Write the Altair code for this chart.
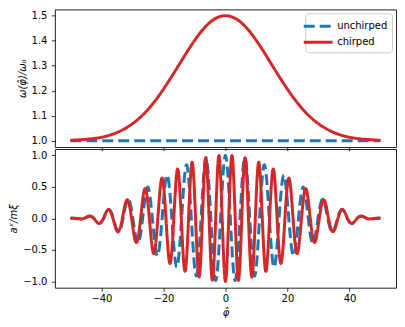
import altair as alt
import pandas as pd

# ---- top panel: instantaneous frequency ----
phi_top = [-50, -45, -40, -35, -30, -25, -20, -15, -10, -5, 0,
           5, 10, 15, 20, 25, 30, 35, 40, 45, 50]
omega_chirped = [1.002, 1.006, 1.014, 1.033, 1.068, 1.125, 1.206, 1.303, 1.400, 1.473, 1.500,
                 1.473, 1.400, 1.303, 1.206, 1.125, 1.068, 1.033, 1.014, 1.006, 1.002]
phi_flat = [-50.0, 50.0]
omega_unchirped = [1.0, 1.0]

# ---- bottom panel: field, extrema and zero crossings ----
phi_blue = [-50.00, -48.69, -47.12, -45.55, -43.98, -42.41, -40.84, -39.27, -37.70, -36.13,
            -34.56, -32.99, -31.42, -29.85, -28.27, -26.70, -25.13, -23.56, -21.99, -20.42,
            -18.85, -17.28, -15.71, -14.14, -12.57, -11.00, -9.42, -7.85, -6.28, -4.71,
            -3.14, -1.57, 0.00, 1.57, 3.14, 4.71, 6.28, 7.85, 9.42, 11.00,
            12.57, 14.14, 15.71, 17.28, 18.85, 20.42, 21.99, 23.56, 25.13, 26.70,
            28.27, 29.85, 31.42, 32.99, 34.56, 36.13, 37.70, 39.27, 40.84, 42.41,
            43.98, 45.55, 47.12, 48.69, 50.00]
a_blue = [0.0, 0.0, -0.008, 0.0, 0.035, 0.0, -0.080, 0.0, 0.142, 0.0,
          -0.217, 0.0, 0.304, 0.0, -0.398, 0.0, 0.496, 0.0, -0.594, 0.0,
          0.689, 0.0, -0.776, 0.0, 0.852, 0.0, -0.915, 0.0, 0.962, 0.0,
          -0.990, 0.0, 1.000, 0.0, -0.990, 0.0, 0.962, 0.0, -0.915, 0.0,
          0.852, 0.0, -0.776, 0.0, 0.689, 0.0, -0.594, 0.0, 0.496, 0.0,
          -0.398, 0.0, 0.304, 0.0, -0.217, 0.0, 0.142, 0.0, -0.080, 0.0,
          0.035, 0.0, -0.008, 0.0, 0.0]

phi_red = [-50.00, -48.71, -47.14, -45.58, -44.01, -42.46, -40.90, -39.35, -37.81, -36.28,
           -34.75, -33.24, -31.74, -30.26, -28.79, -27.35, -25.93, -24.53, -23.15, -21.80,
           -20.47, -19.18, -17.90, -16.65, -15.43, -14.23, -13.05, -11.89, -10.75, -9.63,
           -8.52, -7.42, -6.34, -5.27, -4.20, -3.15, -2.10, -1.05, 0.00,
           1.05, 2.10, 3.15, 4.20, 5.27, 6.34, 7.42, 8.52, 9.63, 10.75,
           11.89, 13.05, 14.23, 15.43, 16.65, 17.90, 19.18, 20.47, 21.80, 23.15,
           24.53, 25.93, 27.35, 28.79, 30.26, 31.74, 33.24, 34.75, 36.28, 37.81,
           39.35, 40.90, 42.46, 44.01, 45.58, 47.14, 48.71, 50.00]
a_red = [0.0, 0.0, -0.008, 0.0, 0.035, 0.0, -0.079, 0.0, 0.140, 0.0,
         -0.212, 0.0, 0.294, 0.0, -0.382, 0.0, 0.471, 0.0, -0.558, 0.0,
         0.640, 0.0, -0.716, 0.0, 0.783, 0.0, -0.841, 0.0, 0.890, 0.0,
         -0.930, 0.0, 0.961, 0.0, -0.983, 0.0, 0.996, 0.0, -1.000,
         0.0, 0.996, 0.0, -0.983, 0.0, 0.961, 0.0, -0.930, 0.0, 0.890,
         0.0, -0.841, 0.0, 0.783, 0.0, -0.716, 0.0, 0.640, 0.0, -0.558,
         0.0, 0.471, 0.0, -0.382, 0.0, 0.294, 0.0, -0.212, 0.0, 0.140,
         0.0, -0.079, 0.0, 0.035, 0.0, -0.008, 0.0, 0.0]

series_domain = ["unchirped", "chirped"]
series_colors = ["#1f77b4", "#d62728"]
series_dash = [[11, 5], [1, 0]]
x_ticks = [-40, -20, 0, 20, 40]

top_blue_df = pd.DataFrame({"phi": phi_flat, "v": omega_unchirped, "series": "unchirped"})
top_red_df = pd.DataFrame({"phi": phi_top, "v": omega_chirped, "series": "chirped"})
bot_blue_df = pd.DataFrame({"phi": phi_blue, "v": a_blue, "kind": "unchirped"})
bot_red_df = pd.DataFrame({"phi": phi_red, "v": a_red, "kind": "chirped"})

x_scale = alt.Scale(domain=[-55, 55], nice=False, zero=False)

top_x = alt.X("phi:Q", scale=x_scale,
              axis=alt.Axis(values=x_ticks, labels=False, title=None))
top_y = alt.Y("v:Q", scale=alt.Scale(domain=[0.975, 1.525], nice=False, zero=False),
              axis=alt.Axis(values=[1.0, 1.1, 1.2, 1.3, 1.4, 1.5], format=".1f",
                            title="ω(φ̂)/ω₀", titleFontStyle="italic"))
top_color = alt.Color("series:N", scale=alt.Scale(domain=series_domain, range=series_colors),
                      legend=alt.Legend(title=None))
top_dash = alt.StrokeDash("series:N", scale=alt.Scale(domain=series_domain, range=series_dash),
                          legend=alt.Legend(title=None))

top = alt.layer(
    alt.Chart(top_blue_df).mark_line(strokeWidth=3, interpolate="natural").encode(
        x=top_x, y=top_y, color=top_color, strokeDash=top_dash),
    alt.Chart(top_red_df).mark_line(strokeWidth=3, interpolate="natural").encode(
        x=top_x, y=top_y, color=top_color, strokeDash=top_dash),
).properties(width=342, height=138)

bot_x = alt.X("phi:Q", scale=x_scale,
              axis=alt.Axis(values=x_ticks, format="d", title="φ̂", titleFontStyle="italic",
                            labelPadding=2.5, titlePadding=4))
bot_y = alt.Y("v:Q", scale=alt.Scale(domain=[-1.1, 1.1], nice=False, zero=False),
              axis=alt.Axis(values=[-1.0, -0.5, 0.0, 0.5, 1.0], format=".1f",
                            title="aˣ/mξ", titleFontStyle="italic"))
bot_color = alt.Color("kind:N", scale=alt.Scale(domain=series_domain, range=series_colors),
                      legend=None)
bot_dash = alt.StrokeDash("kind:N", scale=alt.Scale(domain=series_domain, range=series_dash),
                          legend=None)

bottom = alt.layer(
    alt.Chart(bot_blue_df).mark_line(strokeWidth=3, interpolate="natural").encode(
        x=bot_x, y=bot_y, color=bot_color, strokeDash=bot_dash),
    alt.Chart(bot_red_df).mark_line(strokeWidth=3, interpolate="natural").encode(
        x=bot_x, y=bot_y, color=bot_color, strokeDash=bot_dash),
).properties(width=342, height=139)

chart = alt.vconcat(top, bottom, spacing=2, bounds="flush").resolve_scale(
    color="independent", strokeDash="independent"
).properties(
    padding={"left": 0, "top": 0, "right": 0, "bottom": 0}
).configure_view(
    stroke="#222222", strokeWidth=1
).configure_axis(
    domain=False, grid=False,
    tickColor="#000000", tickSize=3.5, tickWidth=0.8,
    labelPadding=4.5, labelFont="DejaVu Sans", labelFontSize=10, labelColor="#000000",
    titleFont="DejaVu Sans", titleFontSize=10, titleFontWeight="normal", titleColor="#000000",
    titlePadding=4,
).configure_legend(
    orient="top-right", offset=4, padding=4,
    fillColor="white", strokeColor="#cccccc", cornerRadius=3,
    labelFont="DejaVu Sans", labelFontSize=10, labelColor="#000000",
    symbolType="M-2,0H2", symbolStrokeWidth=3, symbolSize=210,
    rowPadding=1, labelOffset=10,
)

chart.save("out.html", embed_options={"renderer": "svg", "actions": False})
